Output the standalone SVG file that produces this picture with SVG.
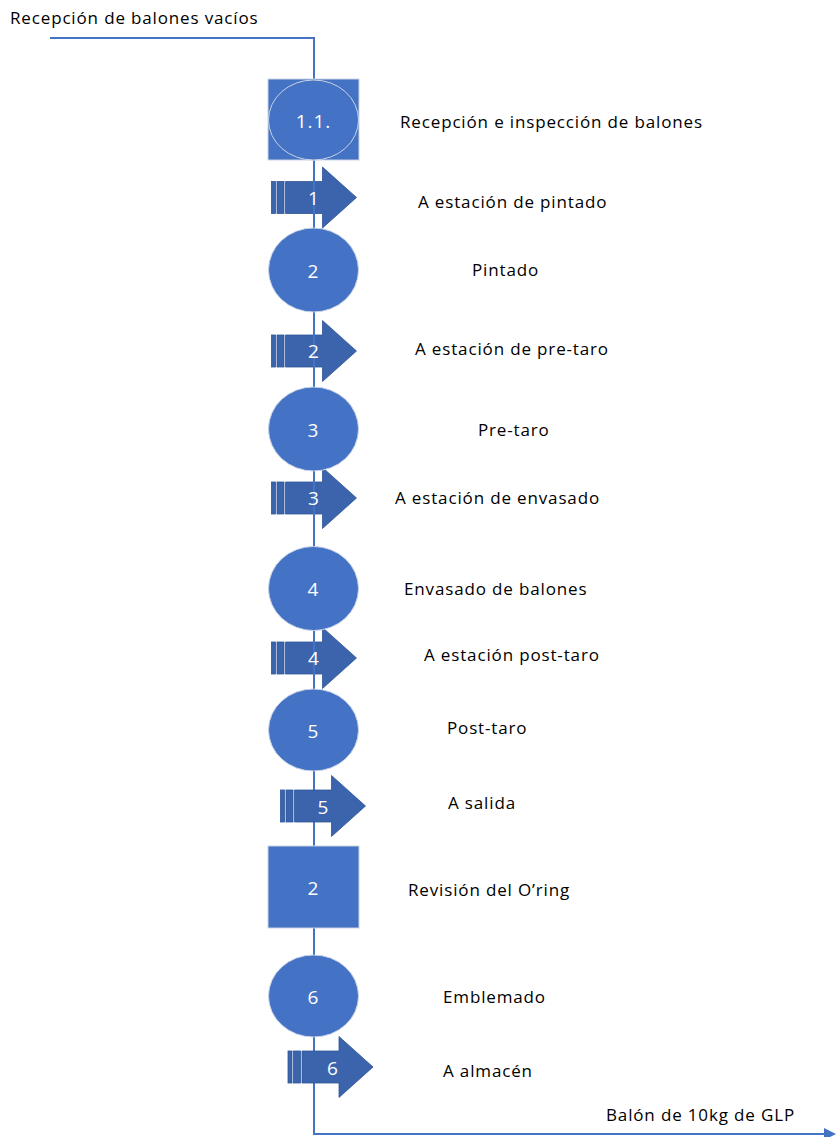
<svg xmlns="http://www.w3.org/2000/svg" width="840" height="1137" viewBox="0 0 840 1137">
<defs>
<style>
.lbl{font-family:"Open Sans","Liberation Sans",sans-serif;font-size:17px;letter-spacing:0.85px;fill:#000}
.num{font-family:"Open Sans","Liberation Sans",sans-serif;font-size:19px;letter-spacing:1px;fill:#fff;text-anchor:middle;dominant-baseline:central}
.shape{fill:#4472C4;stroke:#C9D3E6;stroke-width:1}
.arr{fill:#3B64AD;stroke:#2F5597;stroke-width:0.8}
.con{fill:none;stroke:#4472C4;stroke-width:2}
</style>
<marker id="ah" markerWidth="6" markerHeight="6" refX="5" refY="3" orient="auto" markerUnits="strokeWidth">
<path d="M0,0 L6,3 L0,6 z" fill="#4472C4"/>
</marker>
<g id="arrowShape">
<rect class="arr" x="0" y="-16" width="4" height="32"/>
<rect class="arr" x="5.5" y="-16" width="7" height="32"/>
<path class="arr" d="M14,-16 H51 V-30.5 L85,0 L51,30.5 V16 H14 Z"/>
</g>
</defs>

<g id="arrow1"><use href="#arrowShape" x="271.5" y="197.5"/></g>
<g id="arrow2"><use href="#arrowShape" x="271.5" y="351"/></g>
<g id="arrow3"><use href="#arrowShape" x="271.5" y="498"/></g>
<g id="arrow4"><use href="#arrowShape" x="271.5" y="658"/></g>

<g id="connectors">
<path class="con" d="M50,38 H314 V79"/>
<path class="con" d="M314,160 V790"/>
<path class="con" d="M314,822 V1052"/>
<path class="con" d="M314,1083 V1134 H834" marker-end="url(#ah)"/>
</g>

<g id="arrow5"><use href="#arrowShape" x="280.5" y="806"/></g>
<g id="arrow6"><use href="#arrowShape" x="288" y="1067"/></g>

<g id="node11">
<rect class="shape" x="268" y="79" width="91" height="81"/>
<ellipse class="shape" cx="313.5" cy="120" rx="45" ry="40"/>
<text class="num" x="313.5" y="121">1.1.</text>
</g>
<g id="node2"><ellipse class="shape" cx="313.5" cy="270" rx="45" ry="42"/><text class="num" x="313.5" y="271">2</text></g>
<g id="node3"><ellipse class="shape" cx="313.5" cy="429" rx="45" ry="42"/><text class="num" x="313.5" y="430">3</text></g>
<g id="node4"><ellipse class="shape" cx="313.5" cy="588.5" rx="45" ry="42"/><text class="num" x="313.5" y="589">4</text></g>
<g id="node5"><ellipse class="shape" cx="313.5" cy="730" rx="45" ry="41"/><text class="num" x="313.5" y="731">5</text></g>
<g id="nodeSq2"><rect class="shape" x="268" y="846" width="91" height="82"/><text class="num" x="313.5" y="888">2</text></g>
<g id="node6"><ellipse class="shape" cx="313.5" cy="996" rx="45" ry="41"/><text class="num" x="313.5" y="997">6</text></g>

<g id="arrowNums">
<text class="num" x="314" y="198">1</text>
<text class="num" x="314" y="351">2</text>
<text class="num" x="314" y="498">3</text>
<text class="num" x="314" y="658">4</text>
<text class="num" x="323.5" y="807">5</text>
<text class="num" x="333" y="1068">6</text>
</g>

<g id="labels">
<text class="lbl" x="10" y="24">Recepción de balones vacíos</text>
<text class="lbl" x="400" y="128">Recepción e inspección de balones</text>
<text class="lbl" x="418" y="208">A estación de pintado</text>
<text class="lbl" x="472" y="276">Pintado</text>
<text class="lbl" x="415" y="355">A estación de pre-taro</text>
<text class="lbl" x="478" y="436">Pre-taro</text>
<text class="lbl" x="395" y="504">A estación de envasado</text>
<text class="lbl" x="404" y="595">Envasado de balones</text>
<text class="lbl" x="424" y="661">A estación post-taro</text>
<text class="lbl" x="447" y="734">Post-taro</text>
<text class="lbl" x="448" y="809">A salida</text>
<text class="lbl" x="408" y="896">Revisión del O’ring</text>
<text class="lbl" x="443" y="1003">Emblemado</text>
<text class="lbl" x="443" y="1077">A almacén</text>
<text class="lbl" x="606" y="1121">Balón de 10kg de GLP</text>
</g>
</svg>
